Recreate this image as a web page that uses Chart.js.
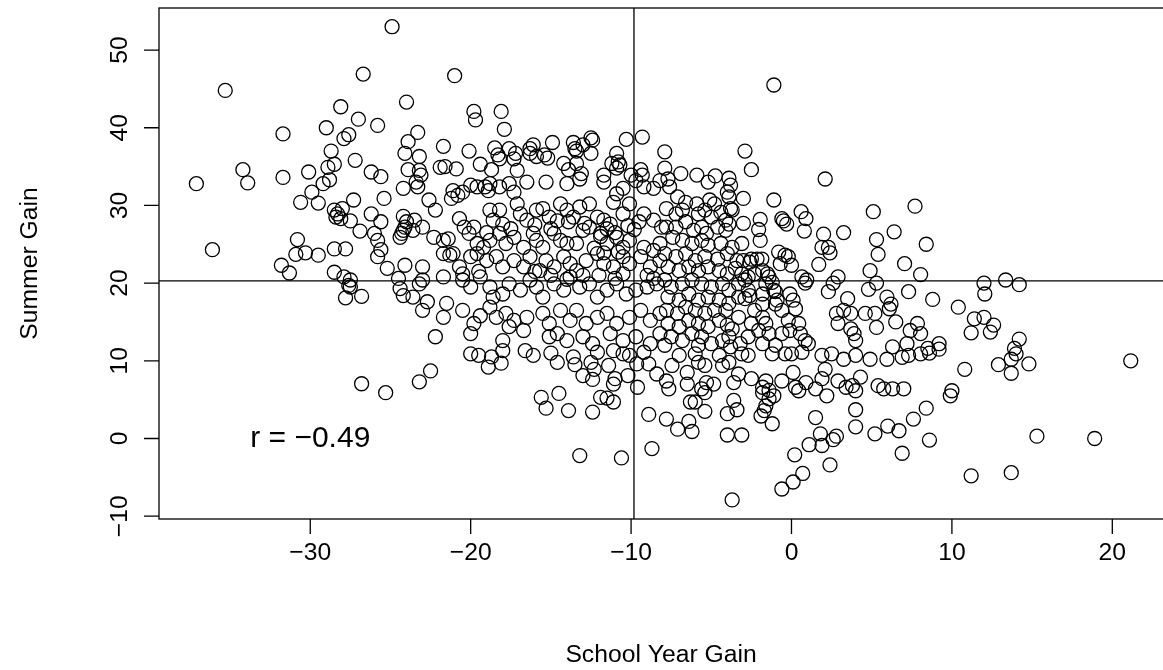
<!DOCTYPE html>
<html>
<head>
<meta charset="utf-8">
<script src="https://cdn.jsdelivr.net/npm/chart.js@4"></script>
<style>
  html, body { margin: 0; padding: 0; background: #fff; overflow: hidden; }
  #wrap { width: 1163px; height: 670px; position: relative; }
  canvas { display: block; }
</style>
</head>
<body>
<div id="wrap"><canvas id="gainChart" width="1163" height="670"></canvas></div>
<script>
// [school year gain, summer gain]
const points = [
  [-24.9,53.0],[-26.7,46.9],[-35.3,44.8],[-28.1,42.7],[-27.0,41.1],[-29.0,40.0],[-25.8,40.3],[-31.7,39.2],[-27.6,39.1],[-27.9,38.6],
  [-24.0,43.3],[-28.7,37.0],[-23.9,38.2],[-24.1,36.7],[-27.2,35.8],[-28.5,35.3],[-28.9,34.9],[-34.2,34.6],[-30.1,34.3],[-31.7,33.6],
  [-26.2,34.3],[-25.6,33.7],[-23.9,34.6],[-37.1,32.8],
  [-21.0,46.7],[-19.8,42.1],[-19.7,41.0],[-18.1,42.1],[-17.9,39.8],[-23.3,39.4],[-21.7,37.6],[-23.2,36.3],[-20.1,37.0],[-21.9,34.9],
  [-21.6,35.0],[-20.9,34.7],[-23.2,34.5],[-23.1,33.9],[-19.4,35.3],[-18.7,34.6],[-18.5,37.4],[-18.3,36.5],[-18.2,36.0],[-17.6,37.3],
  [-17.2,36.7],[-17.3,36.0],[-17.1,34.5],[-16.3,37.3],[-16.1,37.8],[-16.3,36.7],[-15.9,36.3],[-15.4,36.5],[-15.2,36.1],[-14.9,38.1],
  [-14.2,35.4],[-13.6,38.1],[-13.5,37.3],[-13.4,37.0],[-13.0,37.8],[-12.5,38.7],[-12.4,38.4],[-12.5,36.7],[-13.4,35.4],[-13.9,34.6],
  [-13.1,34.1],[-10.3,38.5],[-9.3,38.8],[-10.9,36.7],[-11.2,35.4],[-10.8,35.6],[-10.7,35.2],[-10.9,34.8],[-11.7,33.9],[-10.0,33.9],
  [-9.4,34.6],[-9.3,33.9],[-7.9,36.9],[-7.9,34.8],
  [-1.1,45.5],[-2.9,37.0],[-6.9,34.1],[-5.9,33.9],[-4.75,33.8],[-3.9,33.5],[-2.5,34.6],[2.1,33.4],
  [-33.9,32.9],[-29.2,32.8],[-28.8,33.3],[-29.9,31.7],[-30.6,30.4],[-29.5,30.3],[-28.5,29.4],[-28.3,28.9],[-28.4,28.5],[-28.0,29.6],
  [-28.1,28.3],[-27.3,30.7],[-27.5,28.0],[-26.9,26.7],[-26.2,28.9],[-25.6,27.9],[-25.4,30.9],[-26.0,26.4],[-25.8,25.5],[-25.6,24.3],
  [-25.8,23.4],[-25.2,21.9],[-24.2,32.2],[-24.2,28.6],[-24.0,27.9],[-24.3,26.4],[-24.4,25.9],[-24.2,26.8],[-24.1,27.2],[-24.1,22.3],
  [-24.5,20.6],[-24.4,19.3],[-24.2,18.4],[-30.8,25.6],[-30.9,23.7],[-30.3,23.9],[-29.5,23.6],[-31.8,22.3],[-31.3,21.3],[-36.1,24.3],
  [-28.5,24.4],[-27.8,24.4],[-28.5,21.4],[-27.9,20.8],[-27.5,20.4],[-27.6,19.7],[-27.5,19.5],[-27.8,18.1],[-26.8,18.3],
  [-23.4,33.0],[-23.3,32.4],[-21.1,31.9],[-20.8,31.3],[-21.2,30.9],[-20.5,31.7],[-20.0,32.6],[-19.6,32.4],[-19.1,32.4],[-18.8,32.8],
  [-18.9,31.9],[-18.2,32.4],[-17.6,32.8],[-17.3,31.7],[-16.5,33.0],[-15.3,33.0],[-14.0,32.8],[-13.2,33.4],[-11.7,33.0],[-10.9,31.5],
  [-10.5,32.2],[-9.7,33.2],[-9.2,32.4],[-8.6,32.2],[-8.2,33.2],
  [-22.6,30.7],[-22.2,29.4],[-23.5,28.1],[-23.0,27.2],[-23.6,26.8],[-20.7,28.3],[-20.4,27.2],[-19.8,27.2],[-18.8,29.4],[-18.2,29.4],
  [-18.6,28.1],[-18.0,27.6],[-17.1,30.2],[-16.9,28.9],[-16.5,28.1],[-15.9,29.4],[-15.5,29.6],[-15.1,28.5],[-14.4,30.2],[-14.0,29.4],
  [-13.6,28.5],[-13.2,29.8],[-12.6,30.2],[-12.1,28.5],[-11.7,28.1],[-11.3,27.6],[-11.1,30.4],[-10.5,28.9],[-10.1,30.2],[-9.2,28.9],
  [-8.6,28.1],[-8.1,27.2],
  [-22.3,25.9],[-21.7,25.5],[-21.4,25.7],[-21.1,23.8],[-20.1,26.4],[-19.6,25.1],[-19.2,24.6],[-18.8,25.5],[-18.2,26.4],[-17.8,25.1],
  [-17.3,25.9],[-16.7,24.6],[-16.1,26.4],[-15.9,25.5],[-15.5,24.6],[-14.8,26.4],[-14.4,25.5],[-14.0,25.1],[-13.4,25.1],[-13.0,26.8],
  [-12.6,27.2],[-11.9,26.4],[-11.5,25.1],[-10.9,25.9],[-10.5,24.6],[-10.1,25.5],[-9.2,24.6],[-8.6,24.2],[-8.2,25.1],
  [-23.0,22.1],[-21.7,23.8],[-21.3,23.6],[-20.7,22.1],[-20.0,23.4],[-19.6,23.8],[-19.0,22.9],[-18.4,23.4],[-18.0,22.1],[-17.3,22.9],
  [-16.7,22.1],[-16.3,23.4],[-15.7,21.6],[-15.3,22.9],[-14.8,22.1],[-14.2,23.4],[-13.8,22.5],[-13.4,21.6],[-12.8,22.9],[-12.1,23.8],
  [-11.7,22.5],[-11.1,22.1],[-10.5,23.4],[-10.1,22.5],[-9.4,23.4],[-8.8,22.1],[-8.2,22.9],
  [-23.2,19.9],[-23.0,20.4],[-21.7,20.8],[-20.5,20.4],[-20.0,19.5],[-19.4,20.8],[-18.8,19.5],[-18.6,18.2],[-18.0,18.6],[-17.6,19.9],
  [-16.9,19.1],[-16.3,20.4],[-15.9,19.5],[-15.5,18.2],[-14.8,19.9],[-14.2,19.1],[-13.8,20.8],[-13.2,19.5],[-12.6,19.9],[-12.1,18.2],
  [-11.5,19.1],[-10.9,19.9],[-10.3,18.6],[-9.7,19.1],[-9.0,19.5],[-8.4,19.9],[-23.6,18.2],[-22.7,17.6],[-21.5,17.4],
  [-23.0,16.5],[-21.7,15.6],[-20.5,16.5],[-19.8,14.8],[-19.4,15.8],[-18.8,16.9],[-18.4,15.6],[-17.8,16.1],[-17.3,15.2],[-16.5,15.6],
  [-15.5,16.1],[-15.1,14.8],[-14.4,16.5],[-13.8,15.2],[-13.4,16.5],[-12.8,14.8],[-12.1,15.6],[-11.5,16.1],[-10.9,14.8],[-10.1,15.6],
  [-9.4,16.5],[-8.8,15.2],[-8.2,16.1],[-17.6,14.4],
  [-22.2,13.1],[-20.0,13.5],[-18.0,12.6],[-16.7,13.9],[-15.1,13.1],[-14.6,13.5],[-14.0,12.6],[-13.0,13.1],[-12.4,12.2],[-11.3,13.5],
  [-10.5,12.6],[-9.7,13.1],[-8.8,12.2],[-8.2,13.5],
  [-11.9,26.0],[-11.5,27.0],[-11.0,26.5],[-10.8,24.0],[-12.3,24.5],[-11.7,23.9],[-9.8,26.9],[-9.5,27.9],[-10.2,27.4],[-12.9,27.7],
  [-13.9,27.9],[-14.6,28.0],[-15.0,27.0],[-16.0,27.5],[-17.5,27.0],[-19.0,26.5],[-12.0,21.0],[-11.0,20.6],[-10.5,21.2],[-13.0,21.0],
  [-14.0,20.5],[-15.0,21.0],[-16.0,21.5],[-9.0,21.0],[-8.6,20.6],[-19.5,21.5],[-20.5,21.2],
  [-7.7,33.4],[-5.2,33.0],[-3.8,32.6],[-7.6,32.4],[-7.1,31.1],[-6.6,30.4],[-5.9,30.2],[-5.1,30.7],[-4.8,30.2],[-3.9,31.1],
  [-7.8,29.6],[-7.2,28.9],[-6.8,29.4],[-5.8,28.9],[-5.4,29.4],[-5.0,28.5],[-4.4,29.1],[-4.1,28.1],[-3.7,29.4],[-7.8,27.2],
  [-7.2,27.2],[-6.6,27.9],[-6.1,26.8],[-5.6,27.2],[-5.3,26.4],[-4.6,27.2],[-4.1,26.8],[-3.9,27.6],[-7.4,25.9],[-6.8,25.5],
  [-6.2,25.1],[-5.6,25.5],[-5.2,24.9],[-4.4,25.1],[-3.7,24.6],[-7.9,23.8],[-7.2,23.4],[-6.6,23.8],[-6.0,22.9],[-5.4,23.4],
  [-4.6,23.1],[-4.0,23.8],[-3.4,22.9],[-7.7,22.1],[-7.0,21.6],[-6.4,22.1],[-5.8,21.6],[-5.2,22.1],[-4.5,21.6],[-4.0,21.2],
  [-3.5,21.9],[-3.1,21.2],[-2.7,20.8],[-2.3,21.2],[-1.8,21.6],[-7.9,20.4],[-7.5,19.5],[-6.8,19.9],[-6.2,20.4],[-5.6,19.9],
  [-5.0,19.5],[-4.3,19.9],[-3.9,19.1],[-3.3,19.9],[-2.9,20.4],[-2.7,19.1],[-7.7,18.2],[-7.0,17.8],[-6.4,18.6],[-5.8,17.8],
  [-5.2,18.2],[-4.5,17.8],[-3.9,17.4],[-3.3,18.2],[-7.8,16.5],[-7.1,16.1],[-6.6,16.9],[-6.0,16.5],[-5.4,16.1],[-4.8,16.5],
  [-4.1,16.5],[-7.7,14.8],[-7.0,14.4],[-6.4,15.2],[-5.8,14.8],[-5.2,14.4],[-4.5,15.2],[-4.0,14.6],[-7.5,13.1],[-6.8,12.6],
  [-6.2,13.5],[-5.6,13.1],[-5.0,12.2],[-4.3,12.6],[-3.8,11.8],[-7.9,12.0],[-5.8,12.0],
  [-1.1,30.7],[0.6,29.2],[0.9,28.3],[0.8,26.7],[-0.6,28.3],[-0.3,27.6],[-0.5,28.0],[5.1,29.2],[6.4,26.6],[3.25,26.5],
  [2.0,26.3],[2.3,24.6],[1.9,24.6],[2.4,23.9],[5.3,25.6],[5.4,23.7],[1.7,22.4],[7.7,29.9],[7.05,22.5],[4.9,21.6],
  [5.3,20.0],[4.8,19.2],[2.9,20.8],[2.6,20.0],[2.3,18.9],[3.5,18.0],[7.3,18.9],[5.95,18.2],[6.2,17.3],[6.1,16.7],
  [4.6,16.1],[5.2,16.1],[5.3,14.3],[2.8,16.1],[3.25,16.5],[3.7,16.1],[2.9,14.8],[3.7,14.1],[3.9,13.5],[4.0,12.6],
  [6.5,15.0],[7.4,13.9],[7.2,12.2],[6.3,11.8],[0.65,20.8],[0.95,20.4],[0.85,20.0],[0.1,17.8],[-0.1,18.6],[0.25,16.7],
  [0.45,14.8],[-0.2,15.2],[-0.1,13.9],[-0.6,13.5],[0.55,13.5],[0.85,12.6],[1.05,12.2],[-2.5,23.1],[-2.15,23.1],[-1.85,23.1],
  [-2.6,22.7],[-3.0,22.9],[-0.8,24.0],[-0.4,23.6],[-0.2,23.4],[-0.7,22.5],[0.0,22.3],[-1.95,28.2],[-2.05,26.9],[-1.95,25.5],
  [-3.0,27.7],[-3.1,25.1],[-3.0,30.9],[-3.8,29.6],[-4.0,31.7],[-1.5,21.2],[-1.4,20.8],[-1.1,19.1],[-1.0,18.9],[-1.6,19.9],
  [-1.2,20.1],[-1.8,18.6],[-1.0,17.3],[-0.9,17.8],[-0.6,16.5],[-1.8,17.3],[-2.3,16.5],[-2.6,18.4],[-2.9,18.0],[-1.8,15.6],
  [-1.6,14.8],[-2.05,13.9],[-1.4,13.5],[-2.5,14.8],[-2.7,13.1],[-1.8,12.2],[-1.0,12.0],[-3.3,15.6],[-3.7,14.1],[-3.9,13.1],
  [-3.2,12.2],
  [8.4,25.0],[8.05,21.1],[12.0,20.0],[12.05,18.6],[13.35,20.4],[14.2,19.8],[8.8,17.9],[10.4,16.9],[11.4,15.4],[12.0,15.6],
  [12.6,14.6],[11.2,13.6],[12.4,13.7],[14.2,12.8],[13.9,11.6],[7.85,14.8],[8.05,13.5],[9.2,12.2],[8.5,11.6],
  [-22.5,8.7],[-23.2,7.3],[-20.0,10.9],[-19.5,10.7],[-18.9,9.2],[-18.7,10.5],[-18.1,9.7],[-18.0,11.3],[-16.6,11.3],[-16.1,10.7],
  [-15.0,11.0],[-14.6,9.8],[-13.6,10.5],[-13.5,9.5],[-13.0,8.1],[-12.4,7.6],[-12.5,9.8],[-12.3,8.9],[-12.1,11.1],[-11.4,9.4],
  [-11.1,7.0],[-11.0,7.7],[-11.9,5.3],[-11.5,5.2],[-11.1,4.7],[-15.6,5.3],[-15.3,3.9],[-14.5,5.8],[-13.9,3.6],[-12.4,3.4],
  [-13.2,-2.2],[-10.6,-2.5],[-10.2,8.1],[-9.6,6.6],[-9.65,9.6],[-8.9,9.6],[-8.4,8.3],[-8.9,3.1],[-8.7,-1.3],[-11.1,11.3],
  [-10.5,10.9],[-10.1,10.7],[-9.2,11.1],[-26.8,7.05],[-25.3,5.9],
  [-3.7,-7.9],[-0.6,-6.5],[0.1,-5.6],[0.7,-4.5],[0.2,-2.1],[2.4,-3.4],[1.1,-0.8],[1.8,0.6],[1.9,-0.9],[2.6,-0.15],
  [2.8,0.3],[1.5,2.7],[4.0,3.7],[4.0,1.5],[5.2,0.6],[6.0,1.6],[6.7,1.0],[6.9,-1.9],[7.6,2.5],[-4.0,0.45],
  [-3.1,0.45],[-7.8,2.5],[-7.1,1.2],[-6.4,2.2],[-6.2,0.9],[-4.0,3.2],[-3.4,3.7],[-3.6,4.9],[-5.4,3.5],[-6.3,4.7],
  [-6.0,4.7],[-1.9,2.9],[-1.7,3.6],[-1.6,4.2],[-1.4,5.1],[-1.2,1.9],[-1.4,6.2],[-1.1,5.5],[-1.8,5.9],
  [-7.8,7.4],[-7.65,6.4],[-7.45,9.4],[-6.5,7.0],[-6.5,8.5],[-5.6,6.4],[-5.4,5.9],[-5.3,7.2],[-4.85,7.0],[-5.4,9.4],
  [-5.8,9.8],[-4.3,9.4],[-3.9,9.8],[-3.6,7.2],[-3.3,8.3],[-2.5,7.7],[-1.8,6.6],[-1.6,7.4],[-0.6,7.4],[0.1,8.5],
  [0.25,6.6],[0.45,6.15],[0.9,7.2],[1.5,6.4],[2.1,8.9],[2.2,5.5],[1.9,7.7],[2.9,7.4],[3.4,6.6],[3.8,6.8],
  [4.0,6.15],[4.3,7.9],[4.9,10.2],[5.4,6.8],[5.75,6.4],[6.3,6.4],[7.0,6.4],[5.95,10.2],[6.9,10.45],[7.3,10.7],
  [4.0,10.7],[3.25,10.2],[2.5,10.9],[1.9,10.7],[0.65,11.1],[0.0,10.9],[-0.4,10.9],[-1.2,10.9],[-2.7,10.7],[-3.1,10.9],
  [-4.5,10.7],[-6.0,10.9],[-7.0,10.7],
  [21.15,10.0],[15.3,0.3],[18.9,0.0],[11.2,-4.8],[13.7,-4.4],[8.6,-0.2],[8.4,3.9],[9.9,5.5],[10.0,6.15],[10.8,8.9],
  [12.9,9.5],[13.7,10.2],[14.0,10.9],[13.7,8.4],[14.8,9.6],[8.05,10.9],[8.6,11.0],[9.2,11.5]
];

const xTicks = [-30, -20, -10, 0, 10, 20];
const yTicks = [-10, 0, 10, 20, 30, 40, 50];
const meanSchool = -9.82;
const meanSummer = 20.3;
const corrText = 'r = \u22120.49';
const corrAt = [-30, 0];
const xTitle = 'School Year Gain';
const yTitle = 'Summer Gain';

const FAMILY = '"Liberation Sans", Arial, Helvetica, sans-serif';
const FONT = '24.7px ' + FAMILY;
const CORR_FONT = '30px ' + FAMILY;
const fmt = v => (v < 0 ? '\u2212' + Math.abs(v) : String(v));

// R-style box, reference lines, axes and text
const rDecor = {
  id: 'rDecor',
  afterDraw(chart) {
    const { ctx, chartArea: a, scales: { x, y } } = chart;
    ctx.save();
    ctx.strokeStyle = '#000';
    ctx.fillStyle = '#000';
    ctx.lineWidth = 1.3;

    const mx = x.getPixelForValue(meanSchool);
    const my = y.getPixelForValue(meanSummer);
    ctx.beginPath();
    ctx.moveTo(mx, a.top); ctx.lineTo(mx, a.bottom);
    ctx.moveTo(a.left, my); ctx.lineTo(a.right, my);
    ctx.stroke();

    // plot box runs off the right edge of the picture
    ctx.strokeRect(a.left, a.top, a.right - a.left + 6, a.bottom - a.top);

    const tick = 15;
    ctx.beginPath();
    xTicks.forEach(v => {
      const px = x.getPixelForValue(v);
      ctx.moveTo(px, a.bottom); ctx.lineTo(px, a.bottom + tick);
    });
    yTicks.forEach(v => {
      const py = y.getPixelForValue(v);
      ctx.moveTo(a.left, py); ctx.lineTo(a.left - tick, py);
    });
    ctx.stroke();

    ctx.font = FONT;
    ctx.textAlign = 'center';
    ctx.textBaseline = 'middle';
    xTicks.forEach(v => ctx.fillText(fmt(v), x.getPixelForValue(v), 553));
    yTicks.forEach(v => {
      ctx.save();
      ctx.translate(120, y.getPixelForValue(v));
      ctx.rotate(-Math.PI / 2);
      ctx.fillText(fmt(v), 0, 0);
      ctx.restore();
    });

    ctx.fillText(xTitle, (a.left + a.right) / 2, 655);
    ctx.save();
    ctx.translate(30, (a.top + a.bottom) / 2);
    ctx.rotate(-Math.PI / 2);
    ctx.fillText(yTitle, 0, 0);
    ctx.restore();

    ctx.font = CORR_FONT;
    ctx.fillText(corrText, x.getPixelForValue(corrAt[0]), y.getPixelForValue(corrAt[1]));
    ctx.restore();
  }
};

new Chart(document.getElementById('gainChart'), {
  type: 'scatter',
  data: {
    datasets: [{
      data: points.map(p => ({ x: p[0], y: p[1] })),
      pointStyle: 'circle',
      pointRadius: 7,
      pointHoverRadius: 7,
      borderWidth: 1.3,
      borderColor: '#000',
      backgroundColor: 'rgba(0,0,0,0)'
    }]
  },
  options: {
    responsive: false,
    maintainAspectRatio: false,
    devicePixelRatio: 1,
    animation: false,
    events: [],
    layout: { autoPadding: false, padding: { left: 159, top: 8, right: 0, bottom: 151 } },
    scales: {
      x: { type: 'linear', min: -39.43, max: 23.16, display: false },
      y: { type: 'linear', min: -10.36, max: 55.41, display: false }
    },
    plugins: {
      legend: { display: false },
      tooltip: { enabled: false }
    }
  },
  plugins: [rDecor]
});
</script>
</body>
</html>
